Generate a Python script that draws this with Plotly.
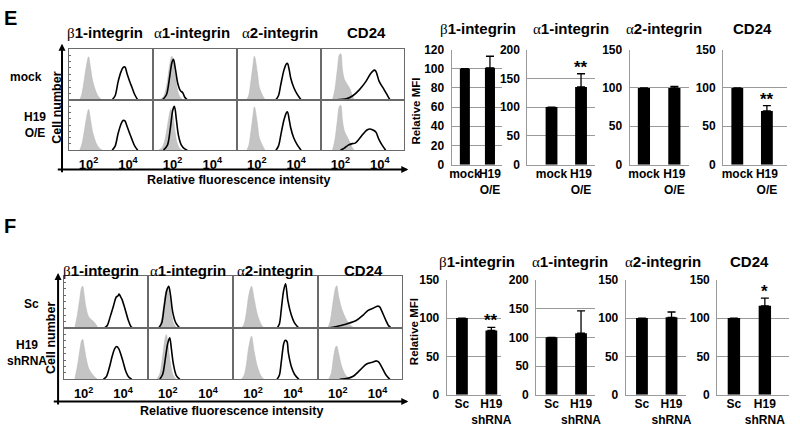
import plotly.graph_objects as go

W, H = 800, 427
FONT = "Liberation Sans, Arial, sans-serif"

# ---------------- data ----------------
markers = ["β1-integrin", "α1-integrin", "α2-integrin", "CD24"]
hist_ticks = [2, 4]
hist_ticktext = ["10<sup>2</sup>", "10<sup>4</sup>"]

E_rows = ["mock", "H19<br>O/E"]
F_rows = ["Sc", "H19<br>shRNA"]

# flow-cytometry histograms: [log10 intensity, relative cell number]
# ---- E, mock
E_b1_mock_iso = [[1.55,0],[1.65,0.1],[1.77,0.36],[1.9,0.68],[2.0,0.84],[2.1,0.62],[2.2,0.38],[2.3,0.24],[2.43,0.11],[2.55,0.04],[2.7,0]]
E_b1_mock_ab = [[3.2,0],[3.35,0.08],[3.5,0.35],[3.65,0.55],[3.75,0.63],[3.85,0.64],[3.95,0.52],[4.1,0.35],[4.2,0.25],[4.35,0.1],[4.5,0]]
E_a1_mock_iso = [[1.35,0],[1.55,0.06],[1.72,0.3],[1.85,0.65],[1.97,0.85],[2.07,0.7],[2.17,0.4],[2.3,0.12],[2.45,0.02],[2.55,0]]
E_a1_mock_ab = [[1.5,0],[1.7,0.1],[1.85,0.42],[1.97,0.72],[2.05,0.79],[2.15,0.6],[2.27,0.32],[2.4,0.18],[2.52,0.14],[2.62,0.05],[2.75,0]]
E_a2_mock_iso = [[1.5,0],[1.6,0.1],[1.68,0.3],[1.8,0.65],[1.88,0.85],[2.02,0.55],[2.13,0.24],[2.3,0.08],[2.42,0]]
E_a2_mock_ab = [[2.97,0],[3.1,0.08],[3.22,0.3],[3.38,0.58],[3.5,0.7],[3.56,0.71],[3.65,0.58],[3.72,0.43],[3.88,0.24],[4.05,0.11],[4.25,0]]
E_cd_mock_iso = [[1.6,0],[1.72,0.2],[1.85,0.6],[1.95,0.88],[2.02,0.9],[2.1,0.6],[2.2,0.4],[2.35,0.3],[2.5,0.2],[2.62,0.06],[2.72,0]]
E_cd_mock_ab = [[1.8,0],[2.3,0.02],[2.63,0.08],[2.97,0.2],[3.3,0.36],[3.55,0.52],[3.72,0.58],[3.8,0.56],[3.97,0.36],[4.22,0.2],[4.43,0.06],[4.52,0]]
# ---- E, H19 O/E
E_b1_h19_iso = [[1.55,0],[1.65,0.1],[1.77,0.34],[1.9,0.65],[2.0,0.81],[2.1,0.6],[2.2,0.37],[2.3,0.23],[2.43,0.1],[2.55,0.04],[2.7,0]]
E_b1_h19_ab = [[3.2,0],[3.35,0.08],[3.5,0.33],[3.65,0.52],[3.75,0.59],[3.85,0.58],[3.95,0.48],[4.1,0.32],[4.2,0.22],[4.35,0.08],[4.5,0]]
E_a1_h19_iso = [[1.3,0],[1.5,0.06],[1.65,0.25],[1.8,0.6],[1.92,0.81],[2.02,0.7],[2.12,0.4],[2.25,0.12],[2.4,0.02],[2.5,0]]
E_a1_h19_ab = [[1.55,0],[1.75,0.1],[1.9,0.45],[2.02,0.8],[2.1,0.87],[2.2,0.6],[2.3,0.3],[2.45,0.1],[2.6,0.03],[2.75,0]]
E_a2_h19_iso = [[1.5,0],[1.6,0.1],[1.68,0.3],[1.8,0.66],[1.88,0.86],[2.02,0.55],[2.13,0.24],[2.3,0.08],[2.42,0]]
E_a2_h19_ab = [[2.97,0],[3.1,0.08],[3.22,0.3],[3.38,0.6],[3.5,0.74],[3.56,0.76],[3.65,0.6],[3.72,0.45],[3.88,0.24],[4.05,0.11],[4.25,0]]
E_cd_h19_iso = [[1.6,0],[1.72,0.2],[1.85,0.6],[1.95,0.87],[2.02,0.89],[2.1,0.6],[2.2,0.38],[2.35,0.26],[2.5,0.14],[2.62,0.04],[2.72,0]]
E_cd_h19_ab = [[2.0,0],[2.2,0.04],[2.4,0.1],[2.6,0.13],[2.75,0.14],[2.95,0.22],[3.15,0.32],[3.35,0.4],[3.5,0.42],[3.65,0.4],[3.8,0.36],[3.95,0.22],[4.12,0.1],[4.3,0]]
# ---- F, Sc
F_b1_sc_iso = [[1.55,0],[1.68,0.25],[1.8,0.55],[1.9,0.78],[1.95,0.8],[2.02,0.65],[2.1,0.43],[2.25,0.22],[2.43,0.15],[2.57,0.1],[2.73,0]]
F_b1_sc_ab = [[3.05,0],[3.2,0.05],[3.35,0.22],[3.52,0.43],[3.65,0.59],[3.75,0.62],[3.8,0.65],[3.88,0.6],[3.95,0.55],[4.1,0.37],[4.27,0.15],[4.4,0.03],[4.52,0]]
F_a1_sc_iso = [[1.5,0],[1.65,0.1],[1.78,0.4],[1.9,0.7],[1.98,0.77],[2.08,0.6],[2.18,0.3],[2.3,0.08],[2.45,0]]
F_a1_sc_ab = [[1.55,0],[1.7,0.1],[1.82,0.4],[1.95,0.72],[2.05,0.8],[2.13,0.65],[2.25,0.3],[2.4,0.1],[2.6,0]]
F_a2_sc_iso = [[1.42,0],[1.55,0.08],[1.67,0.31],[1.78,0.62],[1.92,0.8],[2.05,0.56],[2.22,0.25],[2.42,0.06],[2.55,0]]
F_a2_sc_ab = [[3.2,0],[3.32,0.08],[3.42,0.37],[3.53,0.71],[3.63,0.85],[3.75,0.52],[3.92,0.25],[4.08,0.1],[4.3,0]]
F_cd_sc_iso = [[1.5,0],[1.62,0.12],[1.75,0.45],[1.88,0.75],[1.95,0.81],[2.05,0.6],[2.2,0.37],[2.45,0.15],[2.65,0.05],[2.87,0]]
F_cd_sc_ab = [[1.5,0],[1.95,0.03],[2.45,0.08],[2.95,0.15],[3.28,0.25],[3.53,0.34],[3.78,0.38],[4.0,0.42],[4.1,0.41],[4.2,0.34],[4.42,0.15],[4.55,0.05],[4.7,0]]
# ---- F, H19 shRNA
F_b1_sh_iso = [[1.55,0],[1.68,0.25],[1.8,0.55],[1.9,0.76],[1.95,0.78],[2.02,0.65],[2.12,0.42],[2.25,0.22],[2.4,0.12],[2.55,0.05],[2.7,0]]
F_b1_sh_ab = [[3.0,0],[3.15,0.05],[3.3,0.22],[3.45,0.45],[3.58,0.6],[3.68,0.64],[3.78,0.6],[3.88,0.5],[4.0,0.35],[4.15,0.15],[4.3,0.04],[4.45,0]]
F_a1_sh_iso = [[1.45,0],[1.6,0.1],[1.75,0.45],[1.87,0.8],[1.93,0.87],[2.02,0.65],[2.12,0.35],[2.25,0.1],[2.4,0]]
F_a1_sh_ab = [[1.6,0],[1.75,0.1],[1.88,0.4],[2.0,0.7],[2.1,0.81],[2.18,0.6],[2.28,0.3],[2.42,0.08],[2.6,0]]
F_a2_sh_iso = [[1.42,0],[1.55,0.08],[1.67,0.3],[1.78,0.62],[1.92,0.84],[2.05,0.55],[2.22,0.24],[2.42,0.05],[2.55,0]]
F_a2_sh_ab = [[3.2,0],[3.32,0.08],[3.42,0.35],[3.53,0.68],[3.6,0.76],[3.7,0.74],[3.77,0.52],[3.92,0.25],[4.08,0.1],[4.3,0]]
F_cd_sh_iso = [[1.55,0],[1.68,0.12],[1.8,0.45],[1.9,0.63],[1.95,0.65],[2.05,0.5],[2.2,0.25],[2.4,0.08],[2.62,0]]
F_cd_sh_ab = [[2.1,0],[2.5,0.02],[2.78,0.06],[3.12,0.18],[3.45,0.3],[3.78,0.34],[3.95,0.36],[4.05,0.34],[4.2,0.25],[4.42,0.09],[4.62,0]]

# bar charts: relative MFI
E_cats = ["mock", "H19<br>O/E"]
E_mfi_ctrl = [100, 100, 100, 100]
E_mfi_h19 = [101, 135, 100, 70]
E_err_h19 = [12, 23, 2, 7]
E_stars = ["", "**", "", "**"]
E_ymax = [120, 200, 150, 150]
E_dtick = [20, 50, 50, 50]

F_cats = ["Sc", "H19<br>shRNA"]
F_mfi_ctrl = [100, 100, 100, 100]
F_mfi_h19 = [84, 107, 101, 116]
F_err_h19 = [4, 39, 7, 10]
F_stars = ["**", "", "", "*"]
F_ymax = [150, 200, 150, 150]
F_dtick = [50, 50, 50, 50]

# ---------------- layout helpers ----------------
def xd(a, b):
    return [a / W, b / W]

def yd(top, bottom):
    return [1 - bottom / H, 1 - top / H]

def px(x):
    return x / W

def py(y):
    return 1 - y / H

def bfont(size, color="black"):
    return dict(family=FONT, size=size, color=color, weight="bold")

def title_text(name):
    if name[0] in "αβ":
        return ("<span style='font-family:Liberation Serif;font-weight:normal'>"
                + name[0] + "</span>" + name[1:])
    return name

fig = go.Figure()
layout = {}
annotations = []
counter = [0]

def new_axes(xdom, ydom, xa, ya):
    counter[0] += 1
    n = counter[0]
    s = "" if n == 1 else str(n)
    layout["xaxis" + s] = dict(domain=xdom, anchor="y" + s, **xa)
    layout["yaxis" + s] = dict(domain=ydom, anchor="x" + s, **ya)
    return "x" + s, "y" + s

def hist_panel(xdom, ydom, iso, ab, bottom, first):
    xa = dict(range=[1, 5.25], showgrid=False, zeroline=False, showline=True, mirror=True,
              linecolor="#6a6a6a", linewidth=1, ticks="", showticklabels=bottom,
              tickvals=hist_ticks, ticktext=hist_ticktext,
              ticklabelstandoff=2, tickfont=bfont(13))
    ya = dict(range=[0, 1], showgrid=False, zeroline=False, showline=True, mirror=True,
              linecolor="#6a6a6a", linewidth=1, showticklabels=False,
              ticks="inside" if first else "", ticklen=2, tickcolor="#6a6a6a", dtick=0.125)
    xr, yr = new_axes(xdom, ydom, xa, ya)
    fig.add_trace(go.Scatter(x=[p[0] for p in iso], y=[p[1] for p in iso], xaxis=xr, yaxis=yr,
                             mode="lines", line=dict(shape="spline", smoothing=0.9, color="#bababa", width=0.6),
                             fill="tozeroy", fillcolor="#c4c4c4", hoverinfo="skip", showlegend=False))
    fig.add_trace(go.Scatter(x=[p[0] for p in ab], y=[p[1] for p in ab], xaxis=xr, yaxis=yr,
                             mode="lines", line=dict(shape="spline", smoothing=0.9, color="black", width=1.6),
                             hoverinfo="skip", showlegend=False))

def bar_panel(xdom, ydom, xrange, ymax, dtick, cats, ctrl, h19, err, star):
    xa = dict(type="category", range=xrange, showline=True, linecolor="#9a9a9a", linewidth=1,
              ticks="", showgrid=False, zeroline=False, tickfont=bfont(12), tickangle=0,
              ticklabelstandoff=-2)
    ya = dict(range=[0, ymax], dtick=dtick, showgrid=True, gridcolor="#9a9a9a", gridwidth=1,
              showline=True, linecolor="#9a9a9a", linewidth=1, zeroline=False, ticks="",
              tickfont=bfont(12), ticklabelstandoff=4)
    xr, yr = new_axes(xdom, ydom, xa, ya)
    fig.add_trace(go.Bar(x=cats, y=[ctrl, h19], xaxis=xr, yaxis=yr, width=0.4,
                         marker=dict(color="black", line=dict(width=0)),
                         error_y=dict(type="data", array=[0, err], arrayminus=[0, 0], symmetric=False,
                                      color="black", thickness=1.3, width=4),
                         hoverinfo="skip", showlegend=False))
    if star:
        annotations.append(dict(xref=xr, yref=yr, x=cats[1], y=h19 + err, text=star, showarrow=False,
                                yanchor="bottom", yshift=-5, font=bfont(17)))

# ---------------- histogram grids ----------------
E_hist = [[E_b1_mock_iso, E_b1_mock_ab, E_a1_mock_iso, E_a1_mock_ab, E_a2_mock_iso, E_a2_mock_ab, E_cd_mock_iso, E_cd_mock_ab],
          [E_b1_h19_iso, E_b1_h19_ab, E_a1_h19_iso, E_a1_h19_ab, E_a2_h19_iso, E_a2_h19_ab, E_cd_h19_iso, E_cd_h19_ab]]
F_hist = [[F_b1_sc_iso, F_b1_sc_ab, F_a1_sc_iso, F_a1_sc_ab, F_a2_sc_iso, F_a2_sc_ab, F_cd_sc_iso, F_cd_sc_ab],
          [F_b1_sh_iso, F_b1_sh_ab, F_a1_sh_iso, F_a1_sh_ab, F_a2_sh_iso, F_a2_sh_ab, F_cd_sh_iso, F_cd_sh_ab]]

E_cols = [68, 153, 239, 324, 409]
E_rowy = [43, 96, 148]
F_cols = [63, 148, 235, 321, 407]
F_rowy = [278, 332, 385]

for grid, cols, rowy in [(E_hist, E_cols, E_rowy), (F_hist, F_cols, F_rowy)]:
    for r in range(2):
        for c in range(4):
            hist_panel(xd(cols[c], cols[c + 1]), yd(rowy[r], rowy[r + 1]),
                       grid[r][2 * c], grid[r][2 * c + 1], bottom=(r == 1), first=(c == 0))

# ---------------- bar charts ----------------
E_bar_x = [(457, 508), (534, 603), (638, 698), (733, 798)]
E_bar_rng = [(-0.53, 1.47), (-0.82, 1.48), (-0.47, 1.47), (-0.48, 1.68)]
F_bar_x = [(452, 507), (543, 603), (634, 695), (727, 800)]
F_bar_rng = [(-0.52, 1.32), (-0.52, 1.48), (-0.55, 1.48), (-0.54, 1.78)]

for i in range(4):
    bar_panel(xd(*E_bar_x[i]), yd(44, 163), list(E_bar_rng[i]), E_ymax[i], E_dtick[i],
              E_cats, E_mfi_ctrl[i], E_mfi_h19[i], E_err_h19[i], E_stars[i])
    bar_panel(xd(*F_bar_x[i]), yd(282, 401), list(F_bar_rng[i]), F_ymax[i], F_dtick[i],
              F_cats, F_mfi_ctrl[i], F_mfi_h19[i], F_err_h19[i], F_stars[i])

# ---------------- text ----------------
def label(x, y, text, size=12, angle=0, xanchor="center"):
    annotations.append(dict(xref="paper", yref="paper", x=px(x), y=py(y), text=text, showarrow=False,
                            xanchor=xanchor, yanchor="middle", textangle=angle, font=bfont(size)))

label(9, 11, "E", 20)
label(8, 226, "F", 20)

E_hist_tx = [105, 193, 283, 371]
F_hist_tx = [101, 189, 278, 367]
E_bar_tx = [484, 578, 673, 763]
F_bar_tx = [483, 577, 672, 760]
for i, m in enumerate(markers):
    label(E_hist_tx[i], 26, title_text(m), 15)
    label(F_hist_tx[i], 272, title_text(m), 15)
    label(E_bar_tx[i], 22, title_text(m), 15)
    label(F_bar_tx[i], 263, title_text(m), 15)

label(43, 72, E_rows[0], 12, xanchor="right")
label(34, 122, E_rows[1], 12)
label(30, 307, F_rows[0], 12)
label(25, 358, F_rows[1], 12)

label(55, 104, "Cell number", 12.5, angle=-90)
label(50, 342, "Cell number", 12.5, angle=-90)
label(240, 179, "Relative fluorescence intensity", 12.5)
label(233, 418, "Relative fluorescence intensity", 12.5)
label(421, 108, "Relative MFI", 11.5, angle=-90)
label(419, 336, "Relative MFI", 11.5, angle=-90)

# axis arrows for the histogram blocks
def arrow(hx, hy, tx, ty):
    annotations.append(dict(xref="paper", yref="paper", x=px(hx), y=py(hy), ax=tx - hx, ay=ty - hy,
                            axref="pixel", ayref="pixel", text="", showarrow=True,
                            arrowhead=2, arrowsize=0.7, arrowwidth=2, arrowcolor="black"))

arrow(61, 38, 61, 168)
arrow(413, 168, 61, 168)
arrow(57, 275, 57, 408)
arrow(413, 408, 57, 408)

layout.update(dict(width=W, height=H, margin=dict(l=0, r=0, t=0, b=0),
                   paper_bgcolor="white", plot_bgcolor="white", showlegend=False,
                   annotations=annotations, bargap=0.2))
fig.update_layout(**layout)
fig.write_html("out.html", config={"displayModeBar": False},
               post_script="document.body.style.margin='0px';")
